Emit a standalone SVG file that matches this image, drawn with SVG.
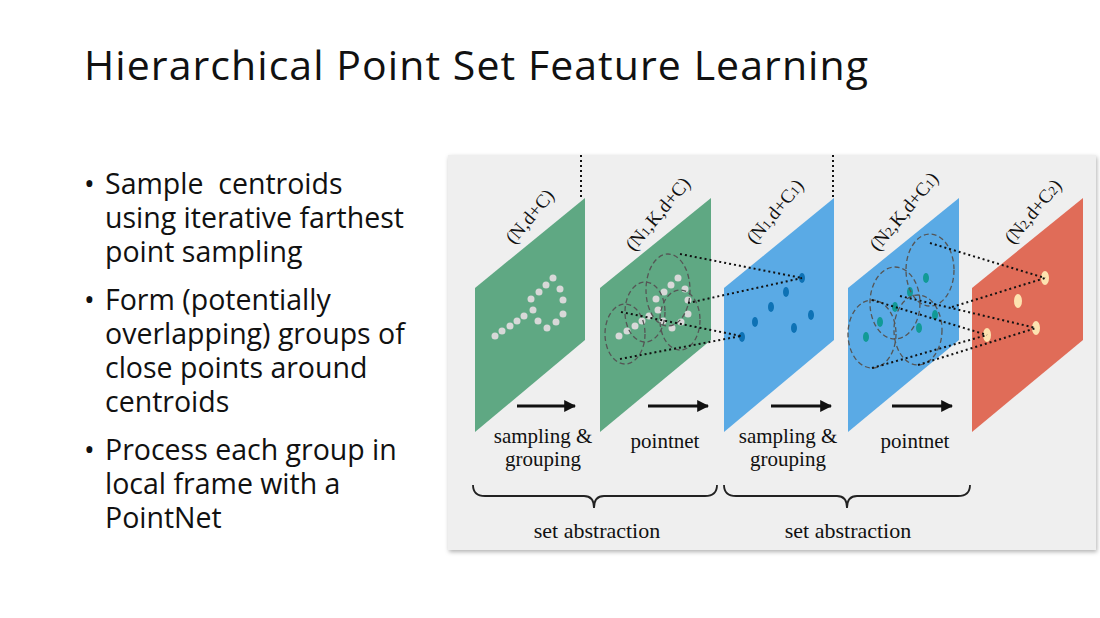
<svg xmlns="http://www.w3.org/2000/svg" width="1100" height="618" viewBox="0 0 1100 618">
<defs>
<style>
.t{font-family:"Open Sans","Liberation Sans",sans-serif;fill:#111}
.s{font-family:"Liberation Serif","DejaVu Serif",serif;fill:#111}
.dot{stroke:#111;stroke-width:2;stroke-dasharray:2 3;fill:none}
.dash{stroke:#555;stroke-width:1.3;stroke-dasharray:5 3;fill:none}
.gd{fill:#d8d8d8}.bd{fill:#0e72b5}.td{fill:#119a96}.od{fill:#fde3b0}
.arr{stroke:#111;stroke-width:3;marker-end:url(#ah)}
.br{stroke:#222;stroke-width:1.8;fill:none}
</style>
<marker id="ah" viewBox="0 0 10 10" refX="9" refY="5" markerWidth="4" markerHeight="4" orient="auto"><path d="M0,0L10,5L0,10z" fill="#111"/></marker>
<filter id="sh" x="-5%" y="-5%" width="110%" height="110%"><feDropShadow dx="1" dy="2" stdDeviation="2" flood-opacity="0.3"/></filter>
</defs>
<rect width="1100" height="618" fill="#fff"/>
<text class="t" x="84" y="80" font-size="41" textLength="784">Hierarchical Point Set Feature Learning</text>
<g id="bullets" class="t" font-size="28.5">
<text x="84" y="194">•</text><text x="105" y="194" xml:space="preserve">Sample  centroids</text>
<text x="105" y="228">using iterative farthest</text>
<text x="105" y="262">point sampling</text>
<text x="84" y="310">•</text><text x="105" y="310">Form (potentially</text>
<text x="105" y="344">overlapping) groups of</text>
<text x="105" y="378">close points around</text>
<text x="105" y="412">centroids</text>
<text x="84" y="460">•</text><text x="105" y="460">Process each group in</text>
<text x="105" y="494">local frame with a</text>
<text x="105" y="528">PointNet</text>
</g>
<rect x="448" y="155" width="648" height="395" fill="#efefef" filter="url(#sh)"/>
<g id="connectors">
<line class="dot" x1="581" y1="155" x2="581" y2="198"/>
<line class="dot" x1="833" y1="155" x2="833" y2="198"/>
</g>
<g id="p1"><polygon points="475,288 585,198 585,340 475,432" fill="#5fa883"/>
<g class="gd"><circle cx="495" cy="336" r="3.5"/><circle cx="502" cy="331" r="3.5"/><circle cx="510" cy="326" r="3.5"/><circle cx="517" cy="321" r="3.5"/><circle cx="524" cy="316" r="3.5"/><circle cx="531" cy="299" r="3.5"/><circle cx="539" cy="292" r="3.5"/><circle cx="546" cy="285" r="3.5"/><circle cx="553" cy="278" r="3.5"/><circle cx="560" cy="289" r="3.5"/><circle cx="563" cy="300" r="3.5"/><circle cx="563" cy="314" r="3.5"/><circle cx="556" cy="322" r="3.5"/><circle cx="547" cy="328" r="3.5"/><circle cx="538" cy="321" r="3.5"/><circle cx="533" cy="310" r="3.5"/></g>
<text class="s" font-size="19" transform="translate(514,245) rotate(-50)">(N,d+C)</text></g>
<g id="p2"><polygon points="600,288 711,198 711,340 600,432" fill="#5fa883"/>
<g class="gd"><circle cx="619" cy="336" r="3.5"/><circle cx="627" cy="331" r="3.5"/><circle cx="635" cy="326" r="3.5"/><circle cx="642" cy="321" r="3.5"/><circle cx="649" cy="316" r="3.5"/><circle cx="656" cy="299" r="3.5"/><circle cx="664" cy="292" r="3.5"/><circle cx="671" cy="285" r="3.5"/><circle cx="678" cy="278" r="3.5"/><circle cx="685" cy="289" r="3.5"/><circle cx="688" cy="300" r="3.5"/><circle cx="688" cy="314" r="3.5"/><circle cx="681" cy="322" r="3.5"/><circle cx="672" cy="328" r="3.5"/><circle cx="663" cy="321" r="3.5"/><circle cx="658" cy="310" r="3.5"/></g>
<g class="dash"><ellipse cx="625" cy="334" rx="20" ry="30"/><ellipse cx="645" cy="312" rx="20" ry="30"/><ellipse cx="668" cy="290" rx="22" ry="36"/><ellipse cx="680" cy="320" rx="20" ry="30"/></g>
<text class="s" font-size="19" transform="translate(634,252) rotate(-50)">(N<tspan font-size="13">1</tspan>,K,d+C)</text></g>
<g id="p3"><polygon points="724,288 834,198 834,340 724,432" fill="#5aaae5"/>
<g class="bd"><ellipse cx="742" cy="337" rx="3" ry="5"/><ellipse cx="755" cy="322" rx="3" ry="5"/><ellipse cx="771" cy="307" rx="3" ry="5"/><ellipse cx="786" cy="292" rx="3" ry="5"/><ellipse cx="802" cy="278" rx="3" ry="5"/><ellipse cx="794" cy="328" rx="3" ry="5"/><ellipse cx="811" cy="315" rx="3" ry="5"/></g>
<text class="s" font-size="19" transform="translate(755,245) rotate(-50)">(N<tspan font-size="13">1</tspan>,d+C<tspan font-size="13">1</tspan>)</text></g>
<g id="p4"><polygon points="848,288 959,198 959,340 848,432" fill="#5aaae5"/>
<g class="td"><ellipse cx="866" cy="337" rx="3" ry="5"/><ellipse cx="880" cy="322" rx="3" ry="5"/><ellipse cx="895" cy="307" rx="3" ry="5"/><ellipse cx="910" cy="292" rx="3" ry="5"/><ellipse cx="926" cy="278" rx="3" ry="5"/><ellipse cx="919" cy="328" rx="3" ry="5"/><ellipse cx="935" cy="315" rx="3" ry="5"/></g>
<g class="dash"><ellipse cx="872" cy="334" rx="24" ry="34"/><ellipse cx="895" cy="303" rx="25" ry="36"/><ellipse cx="930" cy="270" rx="24" ry="36"/><ellipse cx="918" cy="330" rx="24" ry="35"/></g>
<text class="s" font-size="19" transform="translate(878,252) rotate(-50)">(N<tspan font-size="13">2</tspan>,K,d+C<tspan font-size="13">1</tspan>)</text></g>
<g id="p5"><polygon points="972,288 1083,198 1083,340 972,432" fill="#e06c58"/>
<g class="od"><ellipse cx="1045" cy="278" rx="4" ry="7"/><ellipse cx="1018" cy="301" rx="4" ry="7"/><ellipse cx="1036" cy="328" rx="4" ry="7"/><ellipse cx="987" cy="335" rx="4" ry="7"/></g>
<text class="s" font-size="19" transform="translate(1013,245) rotate(-50)">(N<tspan font-size="13">2</tspan>,d+C<tspan font-size="13">2</tspan>)</text></g>
<g id="links">
<line class="dot" x1="680" y1="254" x2="802" y2="278"/>
<line class="dot" x1="688" y1="303" x2="802" y2="278"/>
<line class="dot" x1="621" y1="312" x2="741" y2="336"/>
<line class="dot" x1="620" y1="359" x2="741" y2="336"/>
<line class="dot" x1="930" y1="243" x2="1045" y2="278"/>
<line class="dot" x1="952" y1="307" x2="1045" y2="278"/>
<line class="dot" x1="900" y1="296" x2="1036" y2="328"/>
<line class="dot" x1="918" y1="365" x2="1036" y2="328"/>
<line class="dot" x1="872" y1="300" x2="987" y2="335"/>
<line class="dot" x1="872" y1="368" x2="987" y2="335"/>
<line class="arr" x1="517" y1="406" x2="575" y2="406"/>
<line class="arr" x1="648" y1="406" x2="708" y2="406"/>
<line class="arr" x1="771" y1="406" x2="831" y2="406"/>
<line class="arr" x1="892" y1="406" x2="952" y2="406"/>
<path class="br" d="M473,485 Q473,496 485,496 L584,496 Q594,496 594,508 Q594,496 604,496 L705,496 Q717,496 717,485"/>
<path class="br" d="M724,485 Q724,496 736,496 L837,496 Q847,496 847,508 Q847,496 857,496 L958,496 Q970,496 970,485"/>
</g>
<g class="s" font-size="21" text-anchor="middle">
<text x="543" y="443">sampling &amp;</text><text x="543" y="466">grouping</text>
<text x="665" y="448">pointnet</text>
<text x="788" y="443">sampling &amp;</text><text x="788" y="466">grouping</text>
<text x="915" y="448">pointnet</text>
<text x="597" y="538" font-size="22">set abstraction</text>
<text x="848" y="538" font-size="22">set abstraction</text>
</g>
</svg>
